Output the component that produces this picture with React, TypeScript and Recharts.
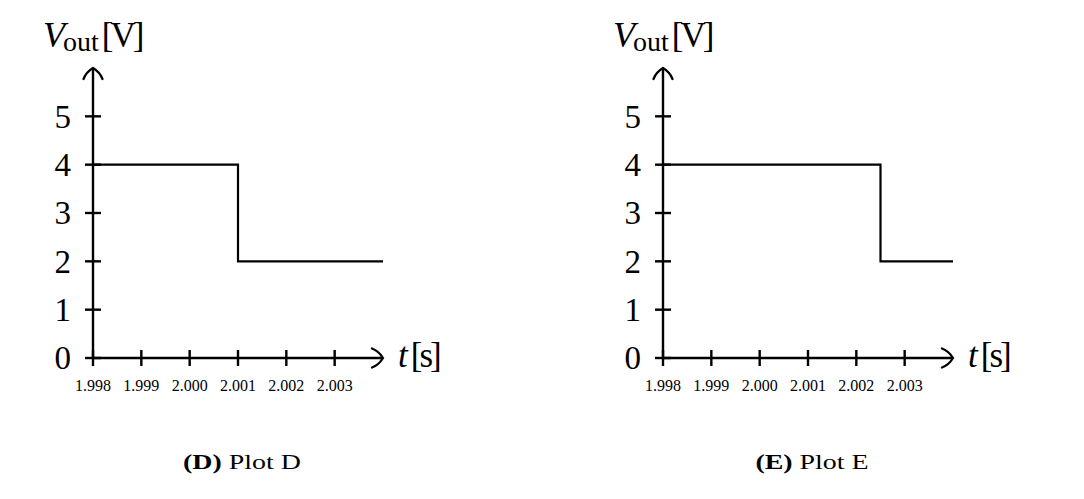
import React from 'react';
import { LineChart, Line, XAxis, YAxis } from 'recharts';

// time axis (s) and voltage axis (V)
const timeTicks = [1.998, 1.999, 2.0, 2.001, 2.002, 2.003];
const timeDomain = [1.998, 2.004];
const voltTicks = [0, 1, 2, 3, 4, 5];
const voltDomain = [0, 6];

// step responses
const plotDTimes = [1.998, 2.001, 2.004];
const plotDVolts = [4, 2, 2];
const plotETimes = [1.998, 2.0025, 2.004];
const plotEVolts = [4, 2, 2];

const SERIF = '"Liberation Serif", "DejaVu Serif", serif';
const AXIS_W = 2.4;

const toRows = (times: number[], volts: number[]) => times.map((t, i) => ({ t, v: volts[i] }));

const YTick = (props: any) => {
  const { x, y, payload } = props;
  return (
    <g>
      <line x1={x + 14} x2={x + 30} y1={y} y2={y} stroke="#000" strokeWidth={AXIS_W} />
      <text x={x} y={y} dy="0.34em" textAnchor="end" fontSize={33} fontFamily={SERIF} fill="#000">
        {payload.value}
      </text>
    </g>
  );
};

const XTick = (props: any) => {
  const { x, y, payload } = props;
  return (
    <g>
      <line x1={x} x2={x} y1={y - 30} y2={y - 14} stroke="#000" strokeWidth={AXIS_W} />
      <text x={x} y={y} dy="0.71em" textAnchor="middle" fontSize={16} fontFamily={SERIF} fill="#000">
        {Number(payload.value).toFixed(3)}
      </text>
    </g>
  );
};

function StepPlot({ id, letter, times, volts, left }: { id: string; letter: string; times: number[]; volts: number[]; left: number }) {
  const data = toRows(times, volts);
  const arrow = `url(#arrow-${id})`;
  return (
    <div style={{ position: 'absolute', left, top: 0 }}>
      <LineChart width={540} height={499} data={data} margin={{ top: 68, right: 157, left: 33, bottom: 111 }}>
        <defs>
          <marker
            id={`arrow-${id}`}
            markerUnits="userSpaceOnUse"
            markerWidth={30}
            markerHeight={30}
            refX={0}
            refY={0}
            viewBox="-15 -15 30 30"
            orient="auto-start-reverse"
            overflow="visible"
          >
            <path d="M -11 -9.5 C -7 -8 -3 -5 0 0 C -3 5 -7 8 -11 9.5" fill="none" stroke="#000" strokeWidth={2.3} strokeLinecap="round" strokeLinejoin="miter" />
          </marker>
        </defs>
        <XAxis
          dataKey="t"
          type="number"
          domain={timeDomain}
          ticks={timeTicks}
          allowDataOverflow
          tickSize={8}
          tickMargin={14}
          tickLine={false}
          tick={<XTick />}
          axisLine={{ stroke: '#000', strokeWidth: AXIS_W, markerEnd: arrow }}
          interval={0}
        />
        <YAxis
          type="number"
          domain={voltDomain}
          ticks={voltTicks}
          allowDataOverflow
          width={60}
          tickSize={8}
          tickMargin={14}
          tickLine={false}
          tick={<YTick />}
          axisLine={{ stroke: '#000', strokeWidth: AXIS_W, markerStart: arrow }}
          interval={0}
        />
        <Line type="stepAfter" dataKey="v" stroke="#000" strokeWidth={2.2} dot={false} isAnimationActive={false} />

        {/* axis titles */}
        <text x={43} y={47} fontFamily={SERIF} fill="#000">
          <tspan fontSize={36} fontStyle="italic">V</tspan>
          <tspan fontSize={28} dy={4} dx={-2}>out</tspan>
          <tspan fontSize={35} dy={-4} dx={3} letterSpacing={-3}>[V]</tspan>
        </text>
        <text x={398} y={367} fontFamily={SERIF} fill="#000" fontSize={35}>
          <tspan fontStyle="italic">t</tspan>
          <tspan dx={3} letterSpacing={-3}>[s]</tspan>
        </text>

        {/* caption */}
        <text transform="translate(242 469) scale(1.33 1)" textAnchor="middle" fontFamily={SERIF} fill="#000" fontSize={21}>
          <tspan fontWeight="bold">({letter})</tspan>
          <tspan> Plot {letter}</tspan>
        </text>
      </LineChart>
    </div>
  );
}

export default function App() {
  return (
    <div style={{ position: 'absolute', left: 0, top: 0, width: 1084, height: 499, background: '#fff' }}>
      <StepPlot id="d" letter="D" times={plotDTimes} volts={plotDVolts} left={0} />
      <StepPlot id="e" letter="E" times={plotETimes} volts={plotEVolts} left={570} />
    </div>
  );
}
